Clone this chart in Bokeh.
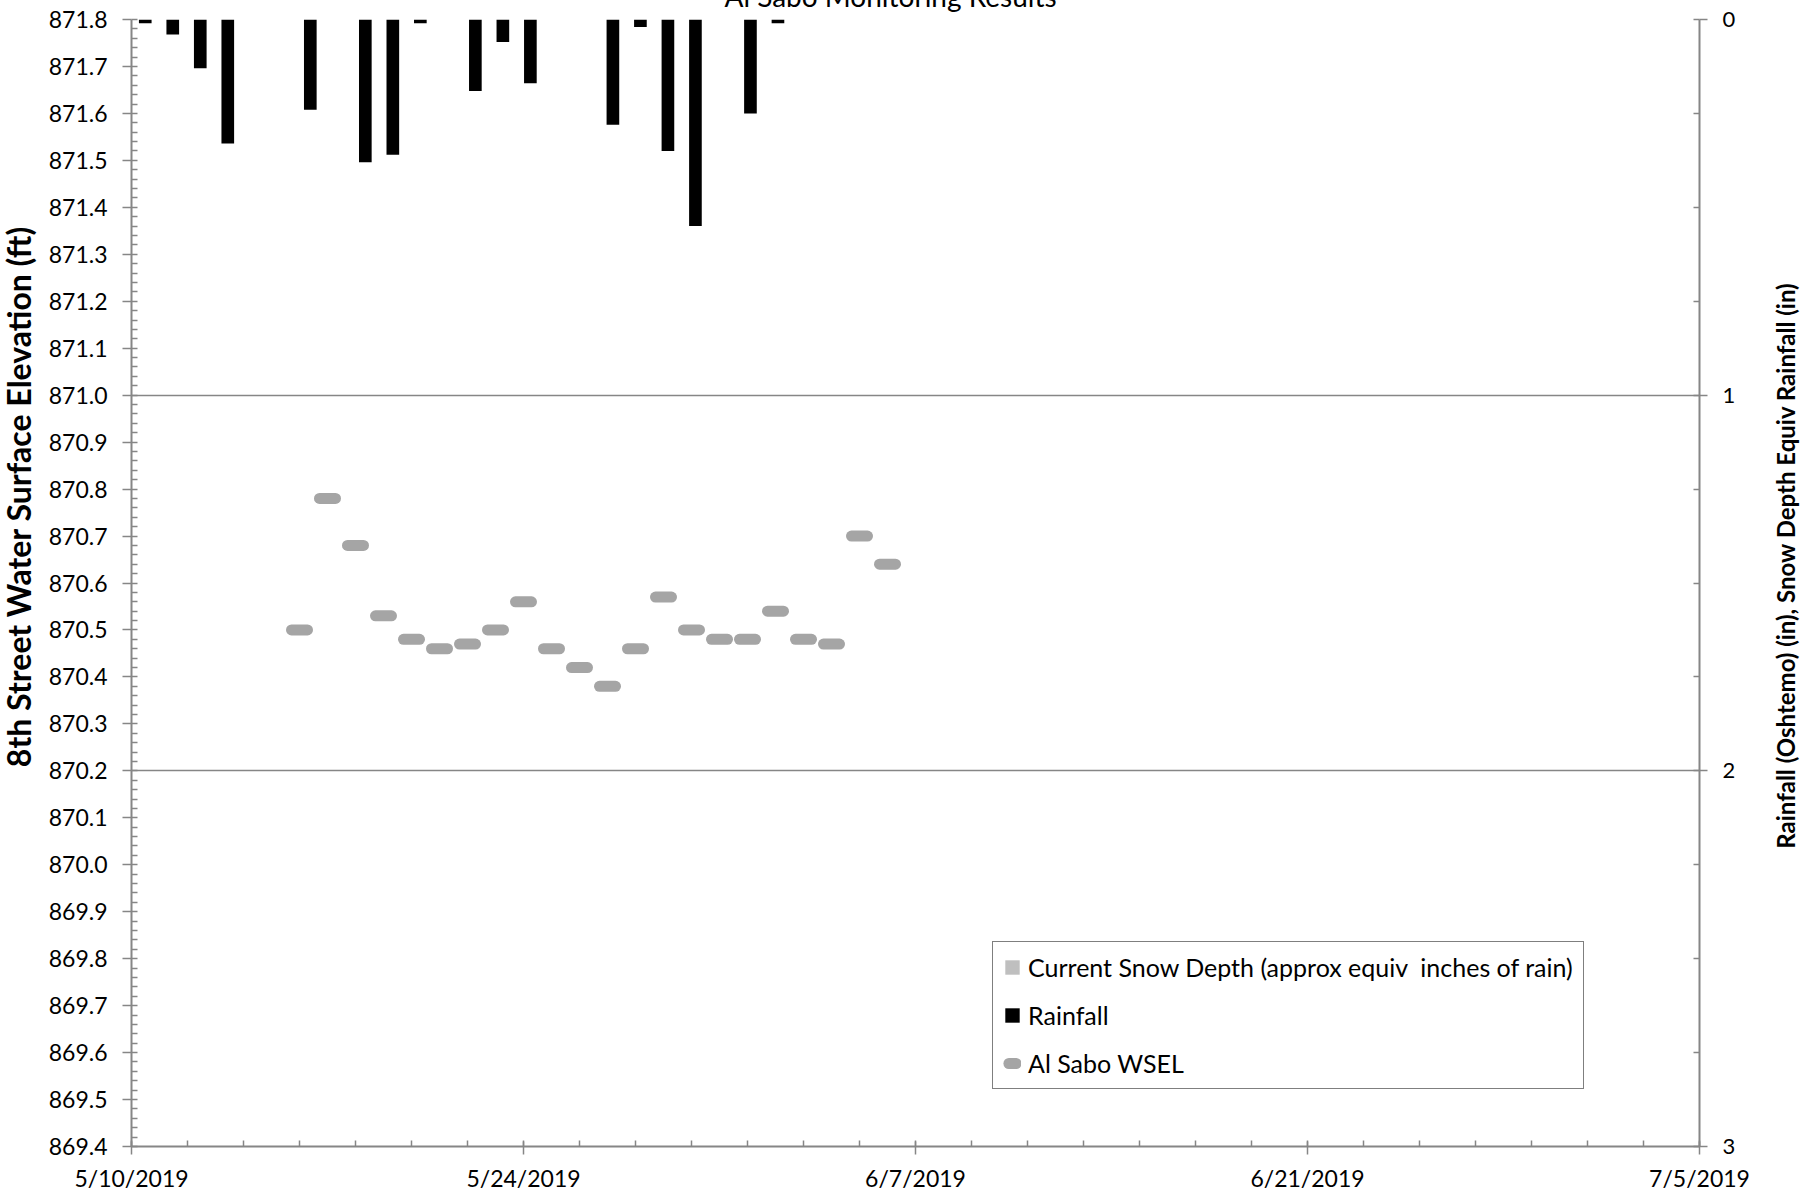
import math
import pandas as pd
from bokeh.plotting import figure
from bokeh.models import (Range1d, LinearAxis, FixedTicker, Grid, Legend, LegendItem,
                          Label, ColumnDataSource, PrintfTickFormatter)
from bokeh.embed import file_html
from bokeh.resources import INLINE

# ---------------- data ----------------
title_text = "Al Sabo Monitoring Results"
left_title = "8th Street Water Surface Elevation (ft)"
right_title = "Rainfall (Oshtemo) (in), Snow Depth Equiv Rainfall (in)"
start_date = "2019-05-10"
end_date = "2019-07-05"
x_tick_labels = ["5/10/2019", "5/24/2019", "6/7/2019", "6/21/2019", "7/5/2019"]

rain_dates = ["2019-05-10", "2019-05-11", "2019-05-12", "2019-05-13", "2019-05-16",
              "2019-05-18", "2019-05-19", "2019-05-20", "2019-05-22", "2019-05-23",
              "2019-05-24", "2019-05-27", "2019-05-28", "2019-05-29", "2019-05-30",
              "2019-06-01", "2019-06-02"]
rain_in = [0.01, 0.04, 0.13, 0.33, 0.24, 0.38, 0.36, 0.01, 0.19, 0.06,
           0.17, 0.28, 0.02, 0.35, 0.55, 0.25, 0.01]

wsel_dates = ["2019-05-16", "2019-05-17", "2019-05-18", "2019-05-19", "2019-05-20",
              "2019-05-21", "2019-05-22", "2019-05-23", "2019-05-24", "2019-05-25",
              "2019-05-26", "2019-05-27", "2019-05-28", "2019-05-29", "2019-05-30",
              "2019-05-31", "2019-06-01", "2019-06-02", "2019-06-03", "2019-06-04",
              "2019-06-05", "2019-06-06"]
wsel_ft = [870.50, 870.78, 870.68, 870.53, 870.48, 870.46, 870.47, 870.50, 870.56, 870.46,
           870.42, 870.38, 870.46, 870.57, 870.50, 870.48, 870.48, 870.54, 870.48, 870.47,
           870.70, 870.64]

# no snow on the ground during this period
snow_dates = ["2019-05-16", "2019-05-23", "2019-05-30", "2019-06-06"]
snow_in = [0.0, 0.0, 0.0, 0.0]

left_ticks = [round(869.4 + 0.1 * i, 1) for i in range(25)]
right_ticks = [0, 1, 2, 3]

# ---------------- derived ----------------
base = pd.Timestamp(start_date)
n_days = (pd.Timestamp(end_date) - base).days
wsel_x = [(pd.Timestamp(d) - base).days for d in wsel_dates]
rain_x = [(pd.Timestamp(d) - base).days + 0.5 for d in rain_dates]
snow_x = [(pd.Timestamp(d) - base).days + 0.5 for d in snow_dates]

FONT = "Lato"
GRAY = "#868686"
FW, FH = 1568, 1127

p = figure(frame_width=FW, frame_height=FH,
           x_range=Range1d(0, n_days), y_range=Range1d(869.4, 871.8),
           output_backend="svg", toolbar_location=None,
           min_border_left=131, min_border_right=104, min_border_top=0, min_border_bottom=49,
           background_fill_color="white", border_fill_color="white")
p.margin = (-31, 0, 0, 0)
p.outline_line_color = None
p.xgrid.visible = False
p.ygrid.visible = False

# chart title (its upper part runs off the top of the page, as in the original)
p.title.text = title_text
p.title.align = "left"
p.title.offset = 593
p.title.standoff = 14
p.title.vertical_align = "bottom"
p.title.text_font = FONT
p.title.text_font_size = "28px"
p.title.text_font_style = "normal"
p.title.text_color = "black"

p.extra_y_ranges = {"rain": Range1d(3, 0)}
p.extra_x_ranges = {"slots": Range1d(0, n_days + 1)}

# x axis
xa = p.xaxis[0]
xa.ticker = FixedTicker(ticks=list(range(0, n_days + 1, 14)), minor_ticks=list(range(0, n_days + 1, 2)))
xa.major_label_overrides = {t: lab for t, lab in zip(range(0, n_days + 1, 14), x_tick_labels)}
xa.major_tick_in = 5
xa.major_tick_out = 8
xa.minor_tick_in = 6
xa.minor_tick_out = 0
xa.major_label_standoff = 9

# left axis
ya = p.yaxis[0]
ya.ticker = FixedTicker(ticks=left_ticks, minor_ticks=[round(869.4 + 0.02 * i, 2) for i in range(121)])
ya.formatter = PrintfTickFormatter(format="%.1f")
ya.major_tick_in = 0
ya.major_tick_out = 9
ya.minor_tick_in = 6
ya.minor_tick_out = 0
ya.major_label_standoff = 15

# right axis
ra = LinearAxis(y_range_name="rain",
                ticker=FixedTicker(ticks=right_ticks, minor_ticks=[0.25 * i for i in range(13)]))
ra.major_tick_in = 0
ra.major_tick_out = 8
ra.minor_tick_in = 6
ra.minor_tick_out = 0
ra.major_label_standoff = 15
ra.major_label_text_font_size = "22px"
p.add_layout(ra, "right")

for ax in (xa, ya, ra):
    ax.axis_line_color = GRAY
    ax.axis_line_width = 2
    ax.major_tick_line_color = GRAY
    ax.major_tick_line_width = 1.5
    ax.minor_tick_line_color = GRAY
    ax.minor_tick_line_width = 1.5
    ax.major_label_text_font = FONT
    ax.major_label_text_color = "black"
xa.major_label_text_font_size = "23px"
ya.major_label_text_font_size = "23px"

# axis titles, both reading bottom-to-top and placed as in the original
lt = Label(x=12, y=650, x_units="screen", y_units="screen", text=left_title,
           angle=math.pi / 2, text_align="center", text_baseline="middle",
           text_font=FONT, text_font_style="bold", text_font_size="32px", text_color="black")
p.add_layout(lt, "left")

rt = Label(x=47, y=581, x_units="screen", y_units="screen", text=right_title,
           angle=math.pi / 2, text_align="center", text_baseline="middle",
           text_font=FONT, text_font_style="bold", text_font_size="24px", text_color="black")
p.add_layout(rt, "right")

grid = Grid(dimension=1, ticker=FixedTicker(ticks=right_ticks), y_range_name="rain",
            grid_line_color=GRAY, grid_line_width=1.5)
p.add_layout(grid)

# glyphs
snow = p.vbar(x="x", top="v", bottom=0, width=0.46,
              source=ColumnDataSource(dict(x=snow_x, v=snow_in)),
              x_range_name="slots", y_range_name="rain",
              fill_color="#BFBFBF", line_color=None)
rain = p.vbar(x="x", top="v", bottom=0, width=0.46,
              source=ColumnDataSource(dict(x=rain_x, v=rain_in)),
              x_range_name="slots", y_range_name="rain",
              fill_color="black", line_color=None)
wsel = p.scatter(x="x", y="y", source=ColumnDataSource(dict(x=wsel_x, y=wsel_ft)),
                 marker="dash", size=16, line_color="#A5A5A5", line_width=11, line_cap="round")

legend = Legend(items=[
    LegendItem(label="Current Snow Depth (approx equiv  inches of rain)", renderers=[snow]),
    LegendItem(label="Rainfall", renderers=[rain]),
    LegendItem(label="Al Sabo WSEL", renderers=[wsel]),
], location=(861, 57), border_line_color="black", border_line_width=1.5,
    label_text_font=FONT, label_text_font_size="25px", label_text_color="black",
    glyph_width=18, glyph_height=18, label_standoff=7, padding=10, spacing=18,
    label_height=30, background_fill_color="white", background_fill_alpha=1.0)
p.add_layout(legend)

open("out.html", "w").write(file_html(p, INLINE))
